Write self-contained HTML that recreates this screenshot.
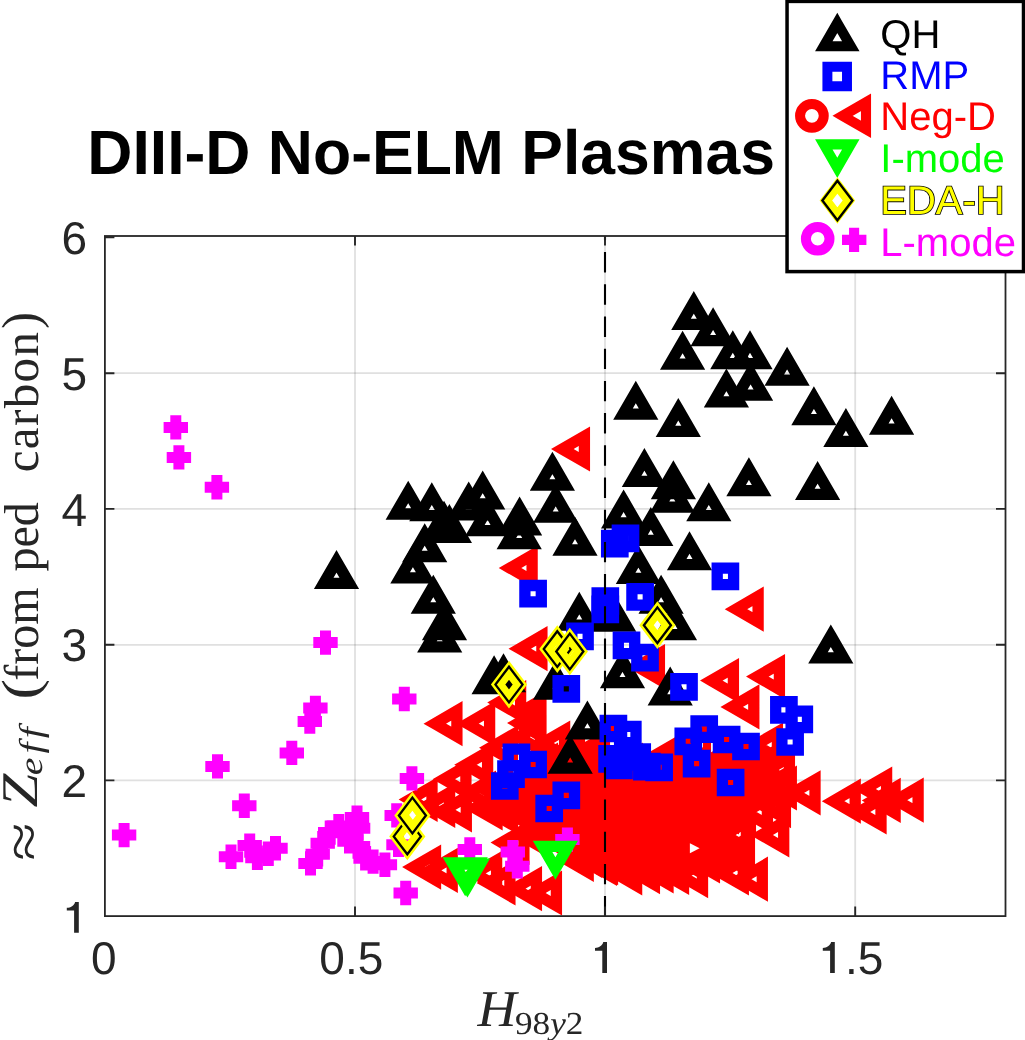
<!DOCTYPE html>
<html><head><meta charset="utf-8"><title>DIII-D No-ELM Plasmas</title>
<style>html,body{margin:0;padding:0;background:#fff;}body{width:1025px;height:1040px;overflow:hidden;font-family:"Liberation Sans",sans-serif;}svg{display:block;will-change:transform;}svg text{text-rendering:geometricPrecision;}text{font-family:"Liberation Sans",sans-serif;}.ser{font-family:"Liberation Serif",serif;}</style></head><body>
<svg width="1025" height="1040" viewBox="0 0 1025 1040">
<rect x="0" y="0" width="1025" height="1040" fill="#fff"/>
<defs>
<path id="u" d="M0 -14.7 L12.8 7.4 L-12.8 7.4 Z" fill="none" stroke-width="11.3" stroke-linejoin="miter"/>
<path id="d" d="M0 14.7 L12.8 -7.4 L-12.8 -7.4 Z" fill="none" stroke-width="11.3" stroke-linejoin="miter"/>
<path id="l" d="M-14.7 0 L7.4 12.8 L7.4 -12.8 Z" fill="none" stroke-width="11.3" stroke-linejoin="miter"/>
<path id="s" d="M-8.2 -8.2 H8.2 V8.2 H-8.2 Z" fill="none" stroke-width="11.3" stroke-linejoin="miter"/>
<path id="p" d="M-12.2 0 H12.2 M0 -12.2 V12.2" fill="none" stroke-width="11.0" stroke-linecap="butt"/>
<g id="y"><path d="M0 -14.35 L10.9 0 L0 14.35 L-10.9 0 Z" fill="none" stroke="#ff0" stroke-width="11.5" stroke-linejoin="miter"/><path d="M0 -17.85 L13.55 0 L0 17.85 L-13.55 0 Z" fill="none" stroke="#000" stroke-width="2.3" stroke-linejoin="miter"/></g>
<clipPath id="c"><rect x="104.9" y="236" width="900.6" height="680.1"/></clipPath>
</defs>
<line x1="355" y1="236" x2="355" y2="916.1" stroke="#262626" stroke-opacity=".14" stroke-width="1.8"/>
<line x1="605" y1="236" x2="605" y2="916.1" stroke="#262626" stroke-opacity=".14" stroke-width="1.8"/>
<line x1="855.2" y1="236" x2="855.2" y2="916.1" stroke="#262626" stroke-opacity=".14" stroke-width="1.8"/>
<line x1="104.9" y1="373.2" x2="1005.5" y2="373.2" stroke="#262626" stroke-opacity=".14" stroke-width="1.8"/>
<line x1="104.9" y1="508.9" x2="1005.5" y2="508.9" stroke="#262626" stroke-opacity=".14" stroke-width="1.8"/>
<line x1="104.9" y1="644.8" x2="1005.5" y2="644.8" stroke="#262626" stroke-opacity=".14" stroke-width="1.8"/>
<line x1="104.9" y1="780.4" x2="1005.5" y2="780.4" stroke="#262626" stroke-opacity=".14" stroke-width="1.8"/>
<g clip-path="url(#c)">
<g stroke="#f00">
<use href="#l" x="577" y="449"/><use href="#l" x="524.7" y="568"/><use href="#l" x="534.5" y="648.7"/><use href="#l" x="750.7" y="609.2"/><use href="#l" x="726" y="680.6"/><use href="#l" x="772" y="676.6"/><use href="#l" x="746.4" y="706.9"/><use href="#l" x="652" y="666.6"/><use href="#l" x="449.5" y="723.7"/><use href="#l" x="482.2" y="723.7"/><use href="#l" x="533" y="723"/><use href="#l" x="513.2" y="702.5"/><use href="#l" x="505" y="747.8"/><use href="#l" x="557.2" y="743"/><use href="#l" x="480.2" y="764.8"/><use href="#l" x="483" y="793"/><use href="#l" x="424.6" y="799.5"/><use href="#l" x="428.1" y="867.1"/><use href="#l" x="444.8" y="870.4"/><use href="#l" x="502.5" y="882.9"/><use href="#l" x="529" y="888.6"/><use href="#l" x="549" y="893"/><use href="#l" x="489.2" y="873.3"/><use href="#l" x="754.9" y="879.2"/><use href="#l" x="776.3" y="835"/><use href="#l" x="778" y="805.6"/><use href="#l" x="783.9" y="788"/><use href="#l" x="807.6" y="792.8"/><use href="#l" x="847.8" y="801.2"/><use href="#l" x="879.2" y="789"/><use href="#l" x="887.7" y="800.4"/><use href="#l" x="873.6" y="812"/><use href="#l" x="910.7" y="800.2"/><use href="#l" x="742" y="850"/><use href="#l" x="605.1" y="862.7"/><use href="#l" x="629.2" y="872.8"/><use href="#l" x="647" y="871.6"/><use href="#l" x="660.6" y="870.8"/><use href="#l" x="676.1" y="872.5"/><use href="#l" x="695.1" y="875.6"/><use href="#l" x="735.9" y="873"/><use href="#l" x="747.8" y="780.6"/><use href="#l" x="763.9" y="778"/><use href="#l" x="458.5" y="779.2"/><use href="#l" x="442.2" y="805.4"/><use href="#l" x="458.9" y="809.8"/><use href="#l" x="489.6" y="808"/><use href="#l" x="516.5" y="842.5"/><use href="#l" x="589" y="832"/><use href="#l" x="598.6" y="829.3"/><use href="#l" x="589" y="855.3"/><use href="#l" x="580.8" y="859.4"/><use href="#l" x="604" y="863.5"/><use href="#l" x="545" y="765"/><use href="#l" x="562" y="765"/><use href="#l" x="579" y="765"/><use href="#l" x="596" y="765"/><use href="#l" x="613" y="765"/><use href="#l" x="630" y="765"/><use href="#l" x="681" y="765"/><use href="#l" x="698" y="765"/><use href="#l" x="715" y="765"/><use href="#l" x="732" y="765"/><use href="#l" x="749" y="765"/><use href="#l" x="766" y="765"/><use href="#l" x="500" y="790"/><use href="#l" x="517" y="790"/><use href="#l" x="534" y="790"/><use href="#l" x="551" y="790"/><use href="#l" x="568" y="790"/><use href="#l" x="585" y="790"/><use href="#l" x="602" y="790"/><use href="#l" x="619" y="790"/><use href="#l" x="636" y="790"/><use href="#l" x="653" y="790"/><use href="#l" x="670" y="790"/><use href="#l" x="687" y="790"/><use href="#l" x="704" y="790"/><use href="#l" x="721" y="790"/><use href="#l" x="738" y="790"/><use href="#l" x="755" y="790"/><use href="#l" x="772" y="790"/><use href="#l" x="505" y="812"/><use href="#l" x="522" y="812"/><use href="#l" x="539" y="812"/><use href="#l" x="556" y="812"/><use href="#l" x="573" y="812"/><use href="#l" x="590" y="812"/><use href="#l" x="607" y="812"/><use href="#l" x="624" y="812"/><use href="#l" x="641" y="812"/><use href="#l" x="658" y="812"/><use href="#l" x="675" y="812"/><use href="#l" x="692" y="812"/><use href="#l" x="709" y="812"/><use href="#l" x="726" y="812"/><use href="#l" x="743" y="812"/><use href="#l" x="760" y="812"/><use href="#l" x="535" y="835"/><use href="#l" x="552" y="835"/><use href="#l" x="569" y="835"/><use href="#l" x="586" y="835"/><use href="#l" x="603" y="835"/><use href="#l" x="620" y="835"/><use href="#l" x="637" y="835"/><use href="#l" x="654" y="835"/><use href="#l" x="671" y="835"/><use href="#l" x="688" y="835"/><use href="#l" x="705" y="835"/><use href="#l" x="722" y="835"/><use href="#l" x="739" y="835"/><use href="#l" x="600" y="855"/><use href="#l" x="617" y="855"/><use href="#l" x="634" y="855"/><use href="#l" x="651" y="855"/><use href="#l" x="668" y="855"/><use href="#l" x="685" y="855"/><use href="#l" x="702" y="855"/><use href="#l" x="719" y="855"/><use href="#l" x="736" y="855"/><use href="#l" x="533.5" y="713"/><use href="#l" x="770" y="745"/><use href="#l" x="782" y="770"/><use href="#l" x="665" y="758"/><use href="#l" x="533" y="737"/><use href="#l" x="572" y="752"/><use href="#l" x="590" y="754"/><use href="#l" x="597" y="760"/><use href="#l" x="707" y="861"/>
</g>
<rect x="703" y="743" width="8" height="8" fill="#f00"/><rect x="609.4" y="724.5" width="8" height="8" fill="#f00"/><rect x="700.2" y="725.1" width="8" height="8" fill="#f00"/><rect x="684.3" y="737.3" width="8" height="8" fill="#f00"/><rect x="722.6" y="735.5" width="8" height="8" fill="#f00"/><rect x="742" y="742.5" width="8" height="8" fill="#f00"/>
<path d="M689.9 843.2 V853.2 L699.6 848.2 Z" fill="#fff"/>
<g stroke="#f0f">
<use href="#p" x="175.8" y="427.4"/><use href="#p" x="178.9" y="457.4"/><use href="#p" x="216.9" y="487.3"/><use href="#p" x="325.5" y="642.6"/><use href="#p" x="315.4" y="708"/><use href="#p" x="309.8" y="721.5"/><use href="#p" x="291.8" y="752.9"/><use href="#p" x="217.5" y="766.4"/><use href="#p" x="244.3" y="805.7"/><use href="#p" x="124.1" y="835.1"/><use href="#p" x="231" y="856.8"/><use href="#p" x="249.7" y="845.6"/><use href="#p" x="257.4" y="857.8"/><use href="#p" x="268.3" y="853.7"/><use href="#p" x="275.5" y="848.3"/><use href="#p" x="310.5" y="863.4"/><use href="#p" x="317.7" y="854.3"/><use href="#p" x="322.7" y="843.3"/><use href="#p" x="330.2" y="832.6"/><use href="#p" x="338.8" y="826.1"/><use href="#p" x="357" y="817.6"/><use href="#p" x="358.1" y="828.3"/><use href="#p" x="349.5" y="841.2"/><use href="#p" x="358" y="846.5"/><use href="#p" x="365.6" y="858.3"/><use href="#p" x="373.1" y="861.6"/><use href="#p" x="384.9" y="864.8"/><use href="#p" x="396.7" y="815.4"/><use href="#p" x="398.5" y="844.8"/><use href="#p" x="405.7" y="893"/><use href="#p" x="411.9" y="778.4"/><use href="#p" x="404.3" y="699"/><use href="#p" x="469.8" y="849.5"/><use href="#p" x="512.8" y="852.1"/><use href="#p" x="517.3" y="866.3"/><use href="#p" x="567.4" y="839.6"/>
</g>
<g stroke="#000">
<use href="#u" x="408.2" y="506.6"/><use href="#u" x="431.8" y="508.3"/><use href="#u" x="482.7" y="496.5"/><use href="#u" x="487.6" y="523.3"/><use href="#u" x="519.2" y="536.2"/><use href="#u" x="552.4" y="477.6"/><use href="#u" x="555.7" y="509.8"/><use href="#u" x="575" y="542.6"/><use href="#u" x="424.7" y="549.1"/><use href="#u" x="412.9" y="570.5"/><use href="#u" x="433.3" y="600.6"/><use href="#u" x="579.3" y="617.8"/><use href="#u" x="468.7" y="507.4"/><use href="#u" x="444" y="526.8"/><use href="#u" x="449.4" y="530"/><use href="#u" x="444.5" y="627.3"/><use href="#u" x="439.7" y="639.5"/><use href="#u" x="494.1" y="681.3"/><use href="#u" x="503.5" y="679.2"/><use href="#u" x="693.8" y="317"/><use href="#u" x="713.1" y="333.3"/><use href="#u" x="682.6" y="356.7"/><use href="#u" x="732.8" y="356.2"/><use href="#u" x="750" y="356.2"/><use href="#u" x="787.1" y="372.8"/><use href="#u" x="726.4" y="394.5"/><use href="#u" x="750.6" y="387.8"/><use href="#u" x="635.8" y="406.7"/><use href="#u" x="678.3" y="423.9"/><use href="#u" x="644.4" y="474"/><use href="#u" x="673.4" y="486.2"/><use href="#u" x="748.9" y="483.3"/><use href="#u" x="813.9" y="412.3"/><use href="#u" x="845.9" y="434"/><use href="#u" x="891.6" y="421.7"/><use href="#u" x="817.6" y="487"/><use href="#u" x="672.3" y="499.7"/><use href="#u" x="708.8" y="508.3"/><use href="#u" x="623.6" y="515.4"/><use href="#u" x="650.8" y="533"/><use href="#u" x="689.5" y="557.2"/><use href="#u" x="638.4" y="571"/><use href="#u" x="661.1" y="600.6"/><use href="#u" x="674.5" y="627.3"/><use href="#u" x="613.7" y="618.7"/><use href="#u" x="622.5" y="675.3"/><use href="#u" x="670.2" y="692.5"/><use href="#u" x="830.8" y="650.4"/><use href="#u" x="555.6" y="686.7"/><use href="#u" x="587.4" y="726.5"/><use href="#u" x="570.2" y="760.8"/><use href="#u" x="336.5" y="576"/><use href="#u" x="519.6" y="522.5"/>
</g>
<g stroke="#00f">
<use href="#s" x="533.1" y="593.7"/><use href="#s" x="580" y="636.4"/><use href="#s" x="614.8" y="543.7"/><use href="#s" x="625.5" y="538.3"/><use href="#s" x="725.4" y="576.4"/><use href="#s" x="640.1" y="596.9"/><use href="#s" x="605.3" y="601"/><use href="#s" x="605.3" y="609.3"/><use href="#s" x="626.5" y="645.4"/><use href="#s" x="645" y="657.7"/><use href="#s" x="684" y="686.9"/><use href="#s" x="566.3" y="688.9"/><use href="#s" x="516.4" y="757.4"/><use href="#s" x="533.1" y="764.5"/><use href="#s" x="511" y="774.1"/><use href="#s" x="504.8" y="786"/><use href="#s" x="566.3" y="795.4"/><use href="#s" x="549.2" y="808.5"/><use href="#s" x="613.4" y="728.5"/><use href="#s" x="627.8" y="734.5"/><use href="#s" x="612.1" y="758.9"/><use href="#s" x="619" y="765.3"/><use href="#s" x="637.2" y="757"/><use href="#s" x="646.9" y="766.6"/><use href="#s" x="659.1" y="767.3"/><use href="#s" x="704.2" y="729.1"/><use href="#s" x="688.3" y="741.3"/><use href="#s" x="726.6" y="739.5"/><use href="#s" x="746" y="746.5"/><use href="#s" x="696.6" y="763.6"/><use href="#s" x="730.6" y="782.5"/><use href="#s" x="783.9" y="709.9"/><use href="#s" x="799.3" y="719.4"/><use href="#s" x="790.1" y="742"/>
</g>
<g stroke="#0f0">
<use href="#d" x="465.2" y="870.2"/><use href="#d" x="467.4" y="871.6"/><use href="#d" x="555.4" y="853.8"/>
</g>
<use href="#y" x="657.4" y="625.2"/><use href="#y" x="557.3" y="649.1"/><use href="#y" x="569.8" y="651.5"/><use href="#y" x="509" y="684.6"/><use href="#y" x="407.3" y="836.4"/><use href="#y" x="412.4" y="815.5"/>
<line x1="605" y1="236" x2="605" y2="916.1" stroke="#000" stroke-width="2.1" stroke-dasharray="20.4 11.8" stroke-dashoffset="16.1"/>
</g>
<rect x="104.9" y="236" width="900.6" height="680.1" fill="none" stroke="#262626" stroke-width="1.8"/>
<path d="M355 916.1 v-9.5 M355 236 v9.5 M605 916.1 v-9.5 M605 236 v9.5 M855.2 916.1 v-9.5 M855.2 236 v9.5 M104.9 373.2 h9.5 M1005.5 373.2 h-9.5 M104.9 508.9 h9.5 M1005.5 508.9 h-9.5 M104.9 644.8 h9.5 M1005.5 644.8 h-9.5 M104.9 780.4 h9.5 M1005.5 780.4 h-9.5 M104.9 237.2 h9.5 M1005.5 237.2 h-9.5" stroke="#262626" stroke-width="1.9" fill="none"/>
<g fill="#262626" font-size="46">
<text x="103.7" y="973.7" text-anchor="middle">0</text>
<text x="351.3" y="973.7" text-anchor="middle">0.5</text>
<path d="M8.3 0 H12 V30.8 H7.3 V8.7 H0 V5.9 C4 5.6 7.2 4 8.3 0 Z" transform="translate(595 942.1)"/>
<path d="M8.3 0 H12 V30.8 H7.3 V8.7 H0 V5.9 C4 5.6 7.2 4 8.3 0 Z" transform="translate(822.8 942.1)"/>
<text x="883.3" y="973.7" text-anchor="end">.5</text>
<text x="87.2" y="253.9" text-anchor="end">6</text>
<text x="87.2" y="389.8" text-anchor="end">5</text>
<text x="87.2" y="525.5" text-anchor="end">4</text>
<text x="87.2" y="661.2" text-anchor="end">3</text>
<text x="87.2" y="797" text-anchor="end">2</text>
<path d="M8.3 0 H12 V30.8 H7.3 V8.7 H0 V5.9 C4 5.6 7.2 4 8.3 0 Z" transform="translate(66.8 901.9)"/>
</g>
<text x="87.3" y="174" font-size="62.5" font-weight="bold" fill="#000">DIII-D No-ELM Plasmas</text>
<g class="ser" fill="#262626" font-style="italic">
<text class="ser" font-size="50" transform="translate(477.5 1026) scale(1.08 1.03)">H</text>
<text class="ser" font-size="32" font-style="normal" transform="translate(515 1033.5) scale(1.1 1)">98<tspan font-style="italic">y</tspan>2</text>
</g>
<g class="ser" fill="#262626" transform="translate(37.5 858) rotate(-90)">
<text class="ser" font-size="49" transform="translate(-2.8 4.6) scale(1.42 1.12)">≈</text>
<text class="ser" font-size="49" transform="translate(50.5 -0.9) scale(1.237 1.05)" font-style="italic">Z</text>
<text class="ser" font-size="33" transform="translate(82.8 4) scale(1.2 1.0)" font-style="italic" letter-spacing="3.5">eff</text>
<text class="ser" font-size="49" transform="translate(158.6 0) scale(1.25 1.07)">(</text>
<text class="ser" font-size="49" transform="translate(177.3 0) scale(0.98 1.0)">from</text>
<text class="ser" font-size="49" transform="translate(286.4 0) scale(0.98 1.0)">ped</text>
<text class="ser" font-size="49" transform="translate(385.7 0) scale(1.0 1.0)" letter-spacing="1.4">carbon</text>
<text class="ser" font-size="49" transform="translate(529 0) scale(1.05 1.07)">)</text>
</g>
<rect x="787.05" y="1.4" width="236.45" height="270.2" fill="#fff" stroke="#000" stroke-width="3.5"/>
<path d="M0 -15.6 L13.5 7.8 L-13.5 7.8 Z" transform="translate(837.3 38.5)" fill="none" stroke="#000" stroke-width="10.1"/>
<path d="M-9.8 -9.8 H9.8 V9.8 H-9.8 Z" transform="translate(837.2 76.5)" fill="none" stroke="#00f" stroke-width="9.95"/>
<circle cx="811.9" cy="115.8" r="11.85" fill="none" stroke="#f00" stroke-width="10"/>
<path d="M-15.6 0 L7.8 13.5 L7.8 -13.5 Z" transform="translate(858.2 115.8)" fill="none" stroke="#f00" stroke-width="10.1"/>
<path d="M0 15.6 L13.5 -7.8 L-13.5 -7.8 Z" transform="translate(837.3 152.2)" fill="none" stroke="#0f0" stroke-width="10.1"/>
<g transform="translate(837.4 200.5)"><path d="M0 -15.1 L11.5 0 L0 15.1 L-11.5 0 Z" fill="none" stroke="#ff0" stroke-width="10"/><path d="M0 -19.7 L15 0 L0 19.7 L-15 0 Z" fill="none" stroke="#000" stroke-width="2.4"/></g>
<circle cx="817.7" cy="238.8" r="11.8" fill="none" stroke="#f0f" stroke-width="10"/>
<path d="M842 239.9 H866.4 M854.1 227.8 V252" fill="none" stroke="#f0f" stroke-width="10.1"/>
<g font-size="40">
<text x="880.3" y="47.6" fill="#000">QH</text>
<text x="880.3" y="88.9" fill="#00f">RMP</text>
<text x="880.3" y="130.3" fill="#f00">Neg-D</text>
<text x="880.3" y="171.9" fill="#0f0">I-mode</text>
<text x="880.3" y="213.6" fill="#ff0" stroke="#000" stroke-width="1.7" paint-order="stroke fill">EDA-H</text>
<text x="880.3" y="255.8" fill="#f0f">L-mode</text>
</g>
</svg></body></html>
